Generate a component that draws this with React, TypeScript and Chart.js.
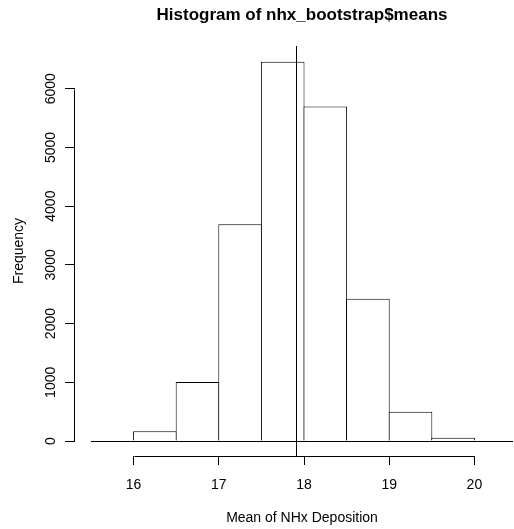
import React, { useEffect, useRef } from 'react';
import { Chart, registerables } from 'chart.js';

Chart.register(...registerables);

// ---- data ----
const binStarts = [16, 16.5, 17, 17.5, 18, 18.5, 19, 19.5];
const binWidth = 0.5;
const frequencies = [165, 1005, 3692, 6460, 5695, 2424, 500, 56];
const xTicks = [16, 17, 18, 19, 20];
const yTicks = [0, 1000, 2000, 3000, 4000, 5000, 6000];
const meanValue = 17.905;
const xRange = [15.5, 20.453];
const yRange = [-255, 6727];
const titleText = 'Histogram of nhx_bootstrap$means';
const xLabel = 'Mean of NHx Deposition';
const yLabel = 'Frequency';

const FAMILY = '"Liberation Sans", Arial, Helvetica, sans-serif';

const rStylePlugin = {
  id: 'rStyle',
  afterDatasetsDraw(chart: any) {
    const { ctx, chartArea, scales } = chart;
    const x = scales.x;
    const y = scales.y;
    ctx.save();
    ctx.strokeStyle = '#000';
    ctx.lineWidth = 1;
    // horizontal reference line at 0
    const y0 = Math.round(y.getPixelForValue(0)) + 0.5;
    ctx.beginPath();
    ctx.moveTo(chartArea.left, y0);
    ctx.lineTo(chartArea.right, y0);
    ctx.stroke();
    // vertical mean line
    const xm = Math.round(x.getPixelForValue(meanValue)) + 0.5;
    ctx.beginPath();
    ctx.moveTo(xm, chartArea.top);
    ctx.lineTo(xm, chartArea.bottom);
    ctx.stroke();
    // x axis line (first to last tick)
    const xb = Math.round(chartArea.bottom) + 0.5;
    ctx.beginPath();
    ctx.moveTo(Math.round(x.getPixelForValue(xTicks[0])) + 0.5, xb);
    ctx.lineTo(Math.round(x.getPixelForValue(xTicks[xTicks.length - 1])) + 0.5, xb);
    ctx.stroke();
    // y axis line (first to last tick)
    const ya = Math.round(y.right) - 0.5;
    ctx.beginPath();
    ctx.moveTo(ya, Math.round(y.getPixelForValue(yTicks[0])) + 0.5);
    ctx.lineTo(ya, Math.round(y.getPixelForValue(yTicks[yTicks.length - 1])) + 0.5);
    ctx.stroke();
    ctx.restore();
  },
  afterDraw(chart: any) {
    const { ctx, chartArea } = chart;
    ctx.save();
    ctx.fillStyle = '#000';
    ctx.font = `bold 17px ${FAMILY}`;
    ctx.textAlign = 'center';
    ctx.textBaseline = 'alphabetic';
    ctx.fillText(titleText, (chartArea.left + chartArea.right) / 2, 20);
    ctx.restore();
  },
};

export default function App() {
  const canvasRef = useRef<HTMLCanvasElement | null>(null);

  useEffect(() => {
    document.body.style.margin = '0';
    const canvas = canvasRef.current;
    if (!canvas) return;
    const data = binStarts.map((s, i) => ({ x: s + binWidth / 2, y: frequencies[i] }));
    const chart = new Chart(canvas, {
      type: 'bar',
      data: {
        datasets: [
          {
            data,
            yAxisID: 'y',
            xAxisID: 'x',
            backgroundColor: '#ffffff',
            borderColor: '#000000',
            borderWidth: 1,
            borderSkipped: 'start',
            barPercentage: 1.024,
            categoryPercentage: 1,
          } as any,
        ],
      },
      plugins: [rStylePlugin],
      options: {
        animation: false,
        responsive: false,
        devicePixelRatio: 1,
        layout: { padding: { top: 46, right: 1, bottom: 0, left: 0 } },
        plugins: {
          legend: { display: false },
          title: { display: false },
          tooltip: { enabled: false },
        },
        scales: {
          x: {
            type: 'linear',
            min: xRange[0],
            max: xRange[1],
            offset: false,
            afterBuildTicks: (s: any) => {
              s.ticks = xTicks.map((v) => ({ value: v }));
            },
            afterFit: (s: any) => {
              s.height = 73;
            },
            grid: {
              display: true,
              drawOnChartArea: false,
              drawTicks: true,
              tickLength: 9,
              color: '#000',
              tickColor: '#000',
              offset: false,
            },
            border: { display: false },
            ticks: {
              color: '#000',
              autoSkip: false,
              maxRotation: 0,
              padding: 12,
              font: { family: FAMILY, size: 14 },
              callback: (v: any) => String(v),
            },
            title: {
              display: true,
              text: xLabel,
              color: '#000',
              font: { family: FAMILY, size: 14 },
              padding: { top: 0, bottom: 2 },
            },
          },
          y: {
            type: 'linear',
            position: 'left',
            weight: 1,
            min: yRange[0],
            max: yRange[1],
            afterBuildTicks: (s: any) => {
              s.ticks = yTicks.map((v) => ({ value: v }));
            },
            afterFit: (s: any) => {
              s.width = 75;
            },
            grid: {
              display: true,
              drawOnChartArea: false,
              drawTicks: true,
              tickLength: 10,
              color: '#000',
              tickColor: '#000',
            },
            border: { display: false },
            ticks: {
              color: '#000',
              autoSkip: false,
              minRotation: 90,
              maxRotation: 90,
              crossAlign: 'center',
              padding: -2,
              font: { family: FAMILY, size: 14 },
              callback: (v: any) => String(v),
            },
            title: {
              display: true,
              text: yLabel,
              color: '#000',
              font: { family: FAMILY, size: 14 },
              padding: { top: 11, bottom: 0 },
            },
          },
          gap: {
            type: 'linear',
            position: 'left',
            weight: 0,
            display: true,
            afterFit: (s: any) => {
              s.width = 16;
            },
            grid: { display: false, drawTicks: false },
            border: { display: false },
            ticks: { display: false },
          },
        } as any,
      },
    });
    return () => chart.destroy();
  }, []);

  return (
    <div style={{ width: 514, height: 529, background: '#fff' }}>
      <canvas ref={canvasRef} width={514} height={529} style={{ display: 'block', width: 514, height: 529 }} />
    </div>
  );
}
